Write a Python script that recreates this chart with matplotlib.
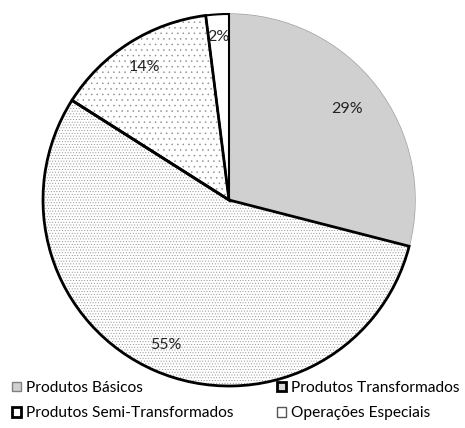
import matplotlib
matplotlib.use("Agg")
import matplotlib.pyplot as plt
from matplotlib.patches import Patch
import numpy as np

plt.rcParams['font.family'] = ['Lato', 'DejaVu Sans']
plt.rcParams['hatch.linewidth'] = 0.35

categories = ["Produtos Básicos", "Produtos Transformados",
              "Produtos Semi-Transformados", "Operações Especiais"]
values = [29, 55, 14, 2]
labels = ["29%", "55%", "14%", "2%"]

fills = ["#d0d0d0", "white", "white", "white"]
hatches = [None, "......", "...", None]
hatch_col = ["#d0d0d0", "#8c8c8c", "#8c8c8c", "white"]
outline = ["#a0a0a0", "black", "black", "black"]
outline_w = [1.0, 2.0, 2.0, 1.5]

W, H = 465, 428
fig = plt.figure(figsize=(W / 100, H / 100), dpi=100)
cx, cy, R = 229, 200, 186
ax = fig.add_axes([(cx - R) / W, (H - cy - R) / H, 2 * R / W, 2 * R / H])

# filled + hatched wedges
wedges, _ = ax.pie(values, startangle=90, counterclock=False, colors=fills,
                   radius=1, wedgeprops=dict(linewidth=0))
for w, h, hc in zip(wedges, hatches, hatch_col):
    if h:
        w.set_hatch(h)
        w.set_edgecolor(hc)
        w.set_linewidth(0)

# outlines drawn on top
outl, _ = ax.pie(values, startangle=90, counterclock=False, radius=1,
                 wedgeprops=dict(fill=False))
for w, c, lw in zip(outl, outline, outline_w):
    w.set_edgecolor(c)
    w.set_linewidth(lw)
    w.set_joinstyle('miter')
outl[0].set_zorder(outl[1].get_zorder() - 0.1)

# percentage labels
start = 90.0
tot = sum(values)
dists = [0.80, 0.85, 0.85, 0.88]
for v, lab, d in zip(values, labels, dists):
    mid = np.deg2rad(start - v / tot * 360 / 2)
    ax.text(d * np.cos(mid), d * np.sin(mid), lab, ha='center', va='center',
            fontsize=11.5, color='#222222')
    start -= v / tot * 360

ax.set_xlim(-1, 1)
ax.set_ylim(-1, 1)
ax.set_aspect('equal')
ax.axis('off')

handles = [
    Patch(facecolor="#d0d0d0", edgecolor="#808080", linewidth=1.0),
    Patch(facecolor="#d8d8d8", edgecolor="black", linewidth=2.0),
    Patch(facecolor="white", edgecolor="black", linewidth=2.0),
    Patch(facecolor="white", edgecolor="#555555", linewidth=1.0),
]
order = [0, 2, 1, 3]
fig.legend([handles[i] for i in order], [categories[i] for i in order],
           loc='upper left', bbox_to_anchor=(12 / W, 1 - 381 / H), ncol=2,
           frameon=False, fontsize=11.2, handlelength=0.6, handleheight=0.6,
           handletextpad=0.3, columnspacing=2.8, labelspacing=0.72,
           borderaxespad=0, borderpad=0)

fig.savefig("out.png", dpi=100, facecolor="white")
